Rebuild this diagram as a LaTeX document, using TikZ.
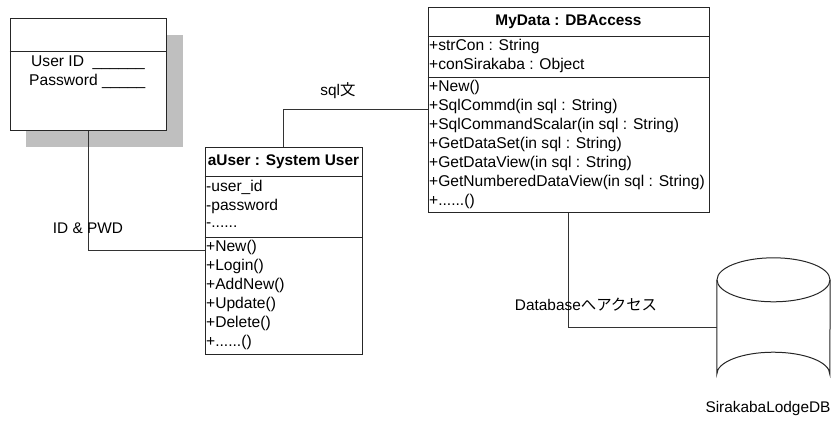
\documentclass[tikz,border=0pt]{standalone}
\usepackage{fontspec}
\setmainfont{Liberation Sans}
\newfontfamily\jpfont{Noto Sans CJK JP}
\usetikzlibrary{calc}

\tikzset{
  box/.style={draw=black!85, line width=1pt, fill=white, inner sep=0pt},
  shadowbox/.style={fill=black!25, draw=none},
  link/.style={draw=black!80, line width=0.8pt},
  row/.style={anchor=west, inner sep=0pt, font=\fontsize{15.6}{18}\selectfont},
  title/.style={inner sep=0pt, font=\fontsize{15.4}{18}\selectfont\bfseries},
  lbl/.style={inner sep=0pt, font=\fontsize{15.4}{18}\selectfont},
}

\begin{document}
\begin{tikzpicture}[x=1pt, y=-1pt]
\useasboundingbox (0,0) rectangle (838,421);

% ---------- login form with drop shadow ----------
\path[shadowbox] (26,35) rectangle (183,147);
\node[box, minimum width=156pt, minimum height=112pt] (form) at (88,74) {};
\draw[line width=1pt, black!85] ($(form.north west)+(0,34)$) -- ($(form.north east)+(0,34)$);
\node[row] (fuid) at (31,63) {User ID\ \ \_\_\_\_\_\_};
\node[row] (fpwd) at (29,81) {Password \_\_\_\_\_};

% ---------- aUser : System User ----------
\node[box, minimum width=157pt, minimum height=207pt] (auser) at (283.5,250.5) {};
\draw[line width=1pt, black!85] (auser.west |- 0,176) -- (auser.east |- 0,176);
\draw[line width=1pt, black!85] (auser.west |- 0,237) -- (auser.east |- 0,237);
\node[title] (autitle) at (283.5,161.5) {aUser : System User};
\node[row] (ua1) at (206,187) {-user\_id};
\node[row] (ua2) at (206,206) {-password};
\node[row] (ua3) at (206,225) {-......};
\node[row] (um1) at (206,247) {+New()};
\node[row] (um2) at (206,266) {+Login()};
\node[row] (um3) at (206,285) {+AddNew()};
\node[row] (um4) at (206,304) {+Update()};
\node[row] (um5) at (206,323) {+Delete()};
\node[row] (um6) at (206,342) {+......()};

% ---------- MyData : DBAccess ----------
\node[box, minimum width=281pt, minimum height=205pt] (mydata) at (568.5,109.5) {};
\draw[line width=1pt, black!85] (mydata.west |- 0,36) -- (mydata.east |- 0,36);
\draw[line width=1pt, black!85] (mydata.west |- 0,77) -- (mydata.east |- 0,77);
\node[title] (mdtitle) at (568.5,21.5) {MyData : DBAccess};
\node[row] (da1) at (429,46) {+strCon : String};
\node[row] (da2) at (429,65) {+conSirakaba : Object};
\node[row] (dm1) at (429,87) {+New()};
\node[row] (dm2) at (429,106) {+SqlCommd(in sql : String)};
\node[row] (dm3) at (429,125) {+SqlCommandScalar(in sql : String)};
\node[row] (dm4) at (429,144) {+GetDataSet(in sql : String)};
\node[row] (dm5) at (429,163) {+GetDataView(in sql : String)};
\node[row] (dm6) at (429,182) {+GetNumberedDataView(in sql : String)};
\node[row] (dm7) at (429,201) {+......()};

% ---------- database cylinder ----------
\node[minimum width=113pt, minimum height=138pt, inner sep=0pt] (db) at (773.5,327) {};
\def\cry{22}
\draw[line width=1pt, black!85, fill=white]
  ($(db.north west)+(0,\cry)$) -- ($(db.south west)+(0,-\cry)$)
  arc[start angle=180, end angle=360, x radius=56.5pt, y radius=-\cry pt]
  -- ($(db.north east)+(0,\cry)$);
\draw[line width=1pt, black!85] ($(db.north)+(0,\cry)$) ellipse[x radius=56.5pt, y radius=\cry pt];
\node[lbl] (dblabel) at (768,409) {SirakabaLodgeDB};

% ---------- connectors ----------
\draw[link] (form.south) |- (auser.west);
\draw[link] (auser.north) |- (mydata.west);
\draw[link] (mydata.south) |- (db.west);

% ---------- connector labels ----------
\node[lbl] (l1) at (88,228) {ID \& PWD};
\node[lbl] (l2) at (338,91) {sql{\jpfont 文}};
\node[lbl] (l3) at (586,305) {Database{\jpfont へアクセス}};
\end{tikzpicture}
\end{document}
